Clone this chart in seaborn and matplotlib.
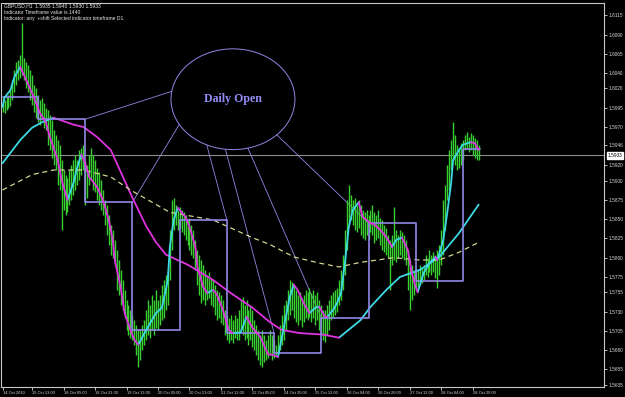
import numpy as np
import pandas as pd
import matplotlib
matplotlib.use("Agg")
import matplotlib.pyplot as plt
import matplotlib.transforms as mtransforms
from matplotlib.patches import Ellipse
import seaborn as sns

# ---------------- data (GBPUSD H1) ----------------
bar_high = [
    1.6008, 1.6005, 1.6009, 1.6012, 1.6018, 1.6031, 1.6044, 1.6054, 1.6057, 1.6064,
    1.6105, 1.6060, 1.6054, 1.6051, 1.6044, 1.6038, 1.6025, 1.6021, 1.6012, 1.6005,
    1.6008, 1.6001, 1.5995, 1.5992, 1.5986, 1.5979, 1.5966, 1.5960, 1.5953, 1.5947,
    1.5927, 1.5914, 1.5908, 1.5904, 1.5914, 1.5921, 1.5927, 1.5934, 1.5927, 1.5940,
    1.5943, 1.5947, 1.5927, 1.5921, 1.5934, 1.5943, 1.5934, 1.5927, 1.5917, 1.5911,
    1.5901, 1.5888, 1.5875, 1.5869, 1.5856, 1.5843, 1.5836, 1.5823, 1.5810, 1.5797,
    1.5784, 1.5771, 1.5758, 1.5745, 1.5739, 1.5732, 1.5726, 1.5719, 1.5713, 1.5706,
    1.5706, 1.5713, 1.5719, 1.5732, 1.5745, 1.5739, 1.5752, 1.5745, 1.5758, 1.5745,
    1.5752, 1.5765, 1.5771, 1.5778, 1.5784, 1.5836, 1.5875, 1.5878, 1.5869, 1.5862,
    1.5866, 1.5862, 1.5859, 1.5856, 1.5849, 1.5852, 1.5843, 1.5836, 1.5823, 1.5810,
    1.5804, 1.5797, 1.5791, 1.5784, 1.5778, 1.5781, 1.5774, 1.5771, 1.5765, 1.5758,
    1.5755, 1.5752, 1.5745, 1.5732, 1.5726, 1.5722, 1.5726, 1.5719, 1.5726, 1.5722,
    1.5732, 1.5745, 1.5749, 1.5739, 1.5745, 1.5732, 1.5739, 1.5732, 1.5719, 1.5713,
    1.5706, 1.5700, 1.5706, 1.5700, 1.5693, 1.5700, 1.5706, 1.5700, 1.5693, 1.5687,
    1.5700, 1.5713, 1.5726, 1.5739, 1.5745, 1.5758, 1.5771, 1.5768, 1.5765, 1.5758,
    1.5752, 1.5755, 1.5748, 1.5752, 1.5758, 1.5755, 1.5761, 1.5754, 1.5758, 1.5752,
    1.5755, 1.5745, 1.5739, 1.5732, 1.5732, 1.5739, 1.5745, 1.5752, 1.5755, 1.5758,
    1.5761, 1.5771, 1.5784, 1.5804, 1.5836, 1.5875, 1.5895, 1.5882, 1.5875, 1.5878,
    1.5869, 1.5875, 1.5869, 1.5862, 1.5859, 1.5862, 1.5856, 1.5862, 1.5869, 1.5859,
    1.5856, 1.5862, 1.5852, 1.5849, 1.5843, 1.5839, 1.5830, 1.5823, 1.5830, 1.5866,
    1.5836, 1.5830, 1.5836, 1.5833, 1.5830, 1.5823, 1.5810, 1.5797, 1.5791, 1.5784,
    1.5787, 1.5784, 1.5791, 1.5787, 1.5791, 1.5804, 1.5800, 1.5810, 1.5804, 1.5807,
    1.5804, 1.5810, 1.5817, 1.5836, 1.5875, 1.5895, 1.5921, 1.5940, 1.5953, 1.5976,
    1.5960, 1.5947, 1.5943, 1.5949, 1.5953, 1.5960, 1.5963, 1.5957, 1.5962, 1.5960,
    1.5956, 1.5953, 1.5947,
]
bar_low = [
    1.5989, 1.5988, 1.5992, 1.5995, 1.5997, 1.6005, 1.6015, 1.6025, 1.6031, 1.6034,
    1.6038, 1.6031, 1.6021, 1.6015, 1.6005, 1.5999, 1.5989, 1.5982, 1.5976, 1.5973,
    1.5979, 1.5969, 1.5966, 1.5947, 1.5940, 1.5930, 1.5921, 1.5914, 1.5895, 1.5888,
    1.5836, 1.5862, 1.5856, 1.5859, 1.5869, 1.5875, 1.5882, 1.5888, 1.5895, 1.5901,
    1.5908, 1.5914, 1.5869, 1.5878, 1.5895, 1.5901, 1.5888, 1.5885, 1.5875, 1.5869,
    1.5862, 1.5856, 1.5843, 1.5830, 1.5817, 1.5804, 1.5800, 1.5791, 1.5758, 1.5752,
    1.5739, 1.5732, 1.5722, 1.5706, 1.5700, 1.5696, 1.5693, 1.5687, 1.5674, 1.5658,
    1.5667, 1.5680, 1.5687, 1.5693, 1.5700, 1.5696, 1.5706, 1.5700, 1.5709, 1.5706,
    1.5713, 1.5719, 1.5722, 1.5732, 1.5739, 1.5771, 1.5810, 1.5836, 1.5843, 1.5836,
    1.5839, 1.5833, 1.5830, 1.5823, 1.5817, 1.5810, 1.5804, 1.5800, 1.5784, 1.5765,
    1.5752, 1.5741, 1.5745, 1.5739, 1.5745, 1.5748, 1.5739, 1.5736, 1.5726, 1.5719,
    1.5722, 1.5715, 1.5713, 1.5700, 1.5693, 1.5689, 1.5693, 1.5689, 1.5696, 1.5693,
    1.5693, 1.5706, 1.5700, 1.5693, 1.5696, 1.5687, 1.5693, 1.5684, 1.5680, 1.5674,
    1.5667, 1.5661, 1.5658, 1.5664, 1.5667, 1.5670, 1.5674, 1.5667, 1.5670, 1.5674,
    1.5677, 1.5680, 1.5687, 1.5693, 1.5706, 1.5719, 1.5726, 1.5732, 1.5722, 1.5716,
    1.5713, 1.5719, 1.5710, 1.5716, 1.5722, 1.5719, 1.5723, 1.5716, 1.5722, 1.5713,
    1.5719, 1.5706, 1.5700, 1.5693, 1.5690, 1.5700, 1.5706, 1.5719, 1.5722, 1.5726,
    1.5729, 1.5739, 1.5745, 1.5758, 1.5778, 1.5810, 1.5843, 1.5849, 1.5843, 1.5836,
    1.5833, 1.5839, 1.5830, 1.5826, 1.5823, 1.5830, 1.5823, 1.5833, 1.5830, 1.5819,
    1.5823, 1.5826, 1.5817, 1.5810, 1.5807, 1.5804, 1.5800, 1.5758, 1.5791, 1.5797,
    1.5794, 1.5800, 1.5804, 1.5800, 1.5797, 1.5791, 1.5758, 1.5732, 1.5745, 1.5752,
    1.5758, 1.5762, 1.5765, 1.5767, 1.5771, 1.5778, 1.5775, 1.5781, 1.5778, 1.5781,
    1.5774, 1.5761, 1.5778, 1.5791, 1.5804, 1.5836, 1.5875, 1.5888, 1.5914, 1.5927,
    1.5921, 1.5914, 1.5917, 1.5921, 1.5927, 1.5940, 1.5943, 1.5937, 1.5940, 1.5934,
    1.5930, 1.5927, 1.5927,
]

# fast colour-changing MA (bar index, value)
fast_bar = [0, 1, 4, 6, 9, 12, 15, 19, 22, 24, 28, 30, 33, 36, 38, 40, 42, 44, 48, 51,
            54, 56, 57, 60, 62, 65, 67, 69, 73, 78, 81, 84, 85, 87, 89, 93, 95, 98, 99, 102,
            104, 107, 109, 112, 115, 117, 121, 124, 127, 131, 135, 137, 140, 142, 146, 148,
            150, 153, 156, 159, 161, 164, 165, 168, 170, 172, 174, 176, 178, 181, 183, 187,
            189, 192, 195, 198, 200, 203, 206, 208, 210, 211, 214, 217, 220, 221, 224, 226,
            228, 229, 232, 234, 238, 240, 242]
fast_val = [1.5996, 1.6008, 1.6018, 1.6035, 1.6048, 1.6031, 1.6014, 1.5988, 1.5976, 1.5957,
            1.5927, 1.5901, 1.5875, 1.5897, 1.5918, 1.5934, 1.5923, 1.5905, 1.5892, 1.5875,
            1.5849, 1.5823, 1.5797, 1.5762, 1.5728, 1.5706, 1.5693, 1.5687, 1.5706, 1.5728,
            1.5735, 1.5771, 1.5814, 1.5849, 1.5865, 1.5853, 1.5840, 1.5814, 1.5788, 1.5762,
            1.5754, 1.5758, 1.5752, 1.5732, 1.5706, 1.5702, 1.5703, 1.5723, 1.5709, 1.5697,
            1.5674, 1.5674, 1.5671, 1.5697, 1.5749, 1.5765, 1.5758, 1.5741, 1.5728, 1.5735,
            1.5736, 1.5723, 1.5723, 1.5732, 1.5741, 1.5754, 1.5793, 1.5840, 1.5862, 1.5872,
            1.5853, 1.5845, 1.5843, 1.5836, 1.5827, 1.5814, 1.5823, 1.5826, 1.5810, 1.5780,
            1.5762, 1.5755, 1.5780, 1.5793, 1.5801, 1.5797, 1.5823, 1.5858, 1.5897, 1.5927,
            1.5940, 1.5947, 1.5950, 1.5949, 1.5940]

# slow colour-changing MA
slow_bar = [0, 9, 15, 20, 26, 36, 41, 48, 55, 61, 66, 73, 78, 83, 94, 107, 116, 127, 136,
            142, 151, 163, 171, 182, 187, 195, 202, 212, 222, 232, 242]
slow_val = [1.5923, 1.5953, 1.5969, 1.5976, 1.5982, 1.5973, 1.5970, 1.5957, 1.5940, 1.5906,
            1.5878, 1.5841, 1.5820, 1.5804, 1.5791, 1.5771, 1.5754, 1.5735, 1.5716, 1.5706,
            1.5702, 1.5700, 1.5696, 1.5719, 1.5736, 1.5758, 1.5775, 1.5784, 1.5801, 1.5832,
            1.5869]

# very slow MA (dashed)
ma_bar = [0, 15, 26, 41, 55, 65, 85, 107, 127, 136, 148, 161, 171, 182, 199, 212, 222, 232, 242]
ma_val = [1.5888, 1.5908, 1.5914, 1.5914, 1.5905, 1.5888, 1.5859, 1.5849, 1.5826, 1.5817,
          1.5801, 1.5793, 1.5788, 1.5794, 1.5800, 1.5797, 1.5797, 1.5807, 1.5820]

# daily open
day_start = [0, 18, 42, 66, 90, 114, 138, 162, 186, 210, 234]
day_open = [1.6009, 1.5980, 1.5872, 1.5706, 1.5849, 1.5702, 1.5676, 1.5722, 1.5845, 1.5770, 1.5941]
pointed_days = [42, 66, 114, 138, 162, 186]

current_price = 1.5933
y_ticks = [1.6115, 1.6090, 1.6065, 1.6040, 1.6020, 1.5995, 1.5970, 1.5946, 1.5920, 1.5900,
           1.5875, 1.5850, 1.5825, 1.5800, 1.5775, 1.5755, 1.5730, 1.5705, 1.5680, 1.5655, 1.5635]
x_tick_bars = [0, 15, 31, 47, 63, 79, 95, 111, 127, 143, 159, 175, 191, 207, 223, 239]
x_tick_labels = ["14 Oct 2010", "15 Oct 13:00", "18 Oct 05:00", "18 Oct 21:00", "19 Oct 13:00",
                 "20 Oct 05:00", "20 Oct 21:00", "21 Oct 13:00", "22 Oct 05:00", "24 Oct 20:00",
                 "25 Oct 12:00", "26 Oct 04:00", "26 Oct 20:00", "27 Oct 12:00", "28 Oct 04:00",
                 "28 Oct 20:00"]
header_lines = ["GBPUSD,H1  1.5935 1.5940 1.5930 1.5933",
                "Indicator Timeframe value is 1440",
                "Indicator: any  +shift Selected indicator timeframe D1."]

# ---------------- styling ----------------
sns.set_style("dark", {"axes.facecolor": "black", "figure.facecolor": "black"})
plt.rcParams["font.family"] = ["Liberation Sans", "DejaVu Sans"]

CYAN = "#3ed8e6"
MAGENTA = "#e032e0"
OPEN_C = "#9088e6"
GREEN = "#38cf30"
KHAKI = "#d8d490"
AXC = "#c8c8c8"

fig = plt.figure(figsize=(6.25, 3.97), dpi=100)
fig.patch.set_facecolor("black")
ax = fig.add_axes([1 / 625, 10 / 397, 603 / 625, 384 / 397])
ax.set_facecolor("black")
ax.grid(False)

# ellipse annotation + pointer lines (behind price)
e_cx, e_cy, e_w, e_h = 117.1, 1.6006, 63.0, 0.0131
ax.add_patch(Ellipse((e_cx, e_cy), e_w, e_h, fill=False, ec=OPEN_C, lw=0.7, zorder=1))
ax.text(e_cx, e_cy, "Daily Open", ha="center", va="center", color="#948cf6",
        fontsize=8.6, fontweight="bold", family=["Liberation Serif", "DejaVu Serif"], zorder=1)
angles = [171, 210, 245, 263, 284, 315]
for b, ang in zip(pointed_days, angles):
    k = day_start.index(b)
    ty = max(day_open[k - 1], day_open[k])
    sx = e_cx + e_w / 2 * np.cos(np.radians(ang))
    sy = e_cy + e_h / 2 * np.sin(np.radians(ang))
    ax.plot([sx, b], [sy, ty], color=OPEN_C, lw=0.6, zorder=1)

# current price line
ax.axhline(current_price, color="#8c8c8c", lw=0.8, zorder=1.5)

# price bars
bars = np.arange(len(bar_high))
ax.vlines(bars, bar_low, bar_high, color=GREEN, lw=1.0, zorder=2)


def runs_frame(xs, ys):
    xs = list(xs)
    ys = list(ys)
    d = ["up" if ys[i + 1] > ys[i] else "down" for i in range(len(ys) - 1)]
    rows = []
    run, start = 0, 0
    for k in range(1, len(d) + 1):
        if k == len(d) or d[k] != d[start]:
            for j in range(start, k + 1):
                rows.append((xs[j], ys[j], run, d[start]))
            run += 1
            start = k
    return pd.DataFrame(rows, columns=["bar", "price", "run", "dir"])


pal = {"up": CYAN, "down": MAGENTA}
sns.lineplot(data=runs_frame(slow_bar, slow_val), x="bar", y="price", units="run", hue="dir",
             palette=pal, estimator=None, sort=False, legend=False, lw=1.3, ax=ax, zorder=3)
sns.lineplot(x=ma_bar, y=ma_val, color=KHAKI, lw=0.9, linestyle=(0, (4, 3)),
             estimator=None, sort=False, ax=ax, zorder=3)
step_x = day_start + [len(bar_high) - 0.3]
step_y = day_open + [day_open[-1]]
sns.lineplot(x=step_x, y=step_y, drawstyle="steps-post", color=OPEN_C, lw=1.2,
             estimator=None, sort=False, ax=ax, zorder=3.5)
sns.lineplot(data=runs_frame(fast_bar, fast_val), x="bar", y="price", units="run", hue="dir",
             palette=pal, estimator=None, sort=False, legend=False, lw=1.3, ax=ax, zorder=4)

# axes
ax.set_xlim(-0.8, 305.7)
ax.set_ylim(1.56319, 1.61311)
ax.set_xlabel("")
ax.set_ylabel("")
for s in ax.spines.values():
    s.set_color(AXC)
    s.set_linewidth(0.8)
ax.yaxis.tick_right()
ax.set_yticks(y_ticks)
ax.set_yticklabels([f"{v:.4f}" for v in y_ticks])
ax.set_xticks(x_tick_bars)
ax.set_xticklabels(x_tick_labels, ha="left")
ax.tick_params(axis="both", colors="#d8d8d8", length=2, width=0.6, pad=1, direction="out")
ax.tick_params(axis="y", left=False, right=True, labelsize=3.4)
ax.tick_params(axis="x", bottom=True, labelsize=2.9)

tr = mtransforms.blended_transform_factory(ax.transAxes, ax.transData)
ax.text(1.006, current_price, f"{current_price:.4f}", transform=tr, ha="left", va="center",
        fontsize=3.4, color="black", zorder=6,
        bbox=dict(boxstyle="square,pad=0.2", fc="white", ec="white"))

for i, line in enumerate(header_lines):
    fig.text(4 / 625, 1 - (6 + 6.2 * i) / 397, line, ha="left", va="center",
             fontsize=3.6, color="#e6e6e6")

fig.savefig("out.png", dpi=100, facecolor="black")
